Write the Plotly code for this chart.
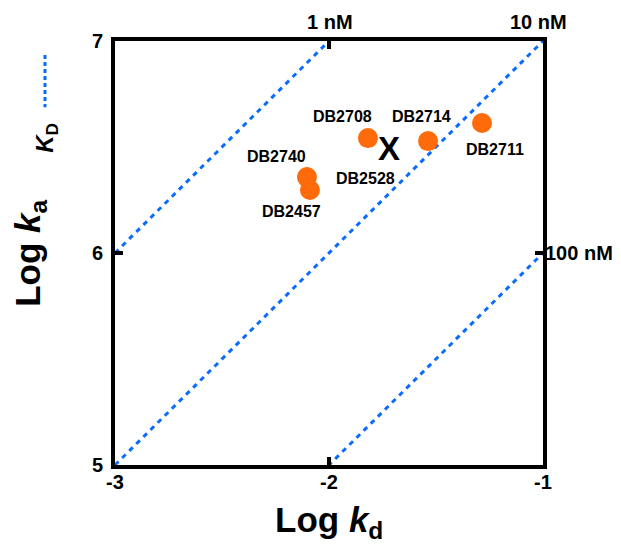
import plotly.graph_objects as go

# ---- data ----
compounds = ["DB2708", "DB2714", "DB2711", "DB2740", "DB2457"]
log_kd = [-1.818, -1.537, -1.285, -2.103, -2.089]
log_ka = [6.542, 6.528, 6.613, 6.358, 6.297]

ref_name = ["DB2528"]
ref_kd = [-1.720]
ref_ka = [6.476]

kd_labels = ["1 nM", "10 nM", "100 nM"]
log_KD = [-9, -8, -7]          # log KD (M)
x_ticks = [-3, -2, -1]
y_ticks = [5, 6, 7]

FONT = "Arial, Liberation Sans, sans-serif"
ORANGE = "#FF6A0A"
BLUE = "#0A6CFF"

fig = go.Figure()

# iso-affinity lines: log ka = log kd - log KD
for lk in log_KD:
    xs = [x_ticks[0], x_ticks[-1]]
    ys = [x - lk for x in xs]
    fig.add_trace(go.Scatter(x=xs, y=ys, mode="lines",
                             line=dict(color=BLUE, width=3, dash="5px,5px"),
                             showlegend=False, hoverinfo="skip"))

fig.add_trace(go.Scatter(x=log_kd, y=log_ka, mode="markers",
                         marker=dict(size=20, color=ORANGE),
                         showlegend=False))
fig.add_trace(go.Scatter(x=ref_kd, y=ref_ka, mode="text", text=["<b>X</b>"],
                         textfont=dict(size=33, color="black", family=FONT),
                         showlegend=False))

# point labels (offsets in pixels)
offsets = {"DB2708": (-25, 22), "DB2714": (-7, 25), "DB2711": (13, -26),
           "DB2740": (-30, 21), "DB2457": (-18, -21)}
for name, x, y in zip(compounds, log_kd, log_ka):
    dx, dy = offsets[name]
    fig.add_annotation(x=x, y=y, text=f"<b>{name}</b>", showarrow=False,
                       xshift=dx, yshift=dy,
                       font=dict(size=16, color="black", family=FONT))
fig.add_annotation(x=ref_kd[0], y=ref_ka[0], text=f"<b>{ref_name[0]}</b>",
                   showarrow=False, xshift=-23, yshift=-26,
                   font=dict(size=16, color="black", family=FONT))

# KD labels: top for 1 nM & 10 nM, right for 100 nM
lab_font = dict(size=20, color="black", family=FONT)
fig.add_annotation(x=x_ticks[1], y=1.045, xref="x", yref="paper",
                   text=f"<b>{kd_labels[0]}</b>", showarrow=False,
                   yanchor="middle", xshift=1, font=lab_font)
fig.add_annotation(x=x_ticks[2], y=1.045, xref="x", yref="paper",
                   text=f"<b>{kd_labels[1]}</b>", showarrow=False,
                   yanchor="middle", xshift=-5, font=lab_font)
fig.add_annotation(x=1, y=y_ticks[1], xref="paper", yref="y",
                   text=f"<b>{kd_labels[2]}</b>", showarrow=False,
                   xanchor="left", xshift=0, font=lab_font)

# legend-like K_D key
fig.add_shape(type="line", xref="paper", yref="paper",
              x0=-0.1636, x1=-0.1636, y0=0.967, y1=0.844,
              line=dict(color=BLUE, width=3, dash="4px,3px"))
fig.add_annotation(xref="paper", yref="paper", x=-0.203, y=0.81,
                   text="<b><i>K</i><sub>D</sub></b>", textangle=-90, showarrow=False,
                   font=dict(size=24, color="black", family=FONT))

# axis titles
title_font = dict(size=35, color="black", family=FONT)
fig.add_annotation(xref="paper", yref="paper", x=0.5, y=-0.134,
                   text="<b>Log <i>k</i><sub>d</sub></b>", showarrow=False,
                   yanchor="middle", font=title_font)
fig.add_annotation(xref="paper", yref="paper", x=-0.199, y=0.5,
                   text="<b>Log <i>k</i><sub>a</sub></b>", showarrow=False,
                   textangle=-90, xanchor="center", font=title_font)

axis_common = dict(showline=True, linecolor="black", linewidth=4, mirror="ticks",
                   ticks="inside", ticklen=8, tickwidth=4, tickcolor="black",
                   showgrid=False, zeroline=False,
                   tickfont=dict(size=20, color="black", family=FONT))

fig.update_xaxes(range=[x_ticks[0], x_ticks[-1]], tickvals=x_ticks,
                 ticktext=[f"<b>{v}</b>" for v in x_ticks],
                 ticklabelstandoff=-4, **axis_common)
fig.update_yaxes(range=[y_ticks[0], y_ticks[-1]], tickvals=y_ticks,
                 ticktext=[f"<b>{v}</b>" for v in y_ticks],
                 ticklabelstandoff=4, **axis_common)

fig.update_layout(width=621, height=545,
                  margin=dict(l=107, r=86, t=33, b=88),
                  plot_bgcolor="white", paper_bgcolor="white",
                  font=dict(family=FONT, color="black"))

fig.write_html("out.html")
